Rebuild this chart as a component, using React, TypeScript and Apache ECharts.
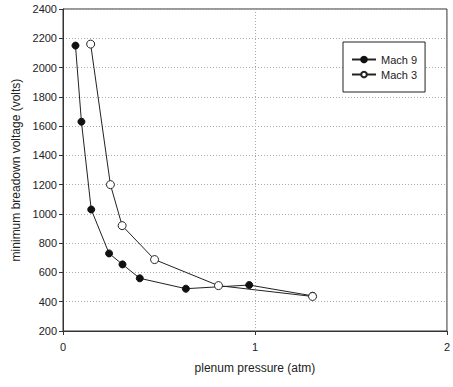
import React, { useEffect, useRef } from "react";
import * as echarts from "echarts";

const mach9X = [0.065, 0.096, 0.147, 0.24, 0.31, 0.4, 0.64, 0.97, 1.3];
const mach9Y = [2150, 1630, 1030, 730, 655, 560, 489, 514, 440];
const mach3X = [0.144, 0.247, 0.308, 0.477, 0.81, 1.3];
const mach3Y = [2160, 1200, 920, 688, 510, 436];
const seriesNames = ["Mach 9", "Mach 3"];
const xAxisTitle = "plenum pressure (atm)";
const yAxisTitle = "minimum breadown voltage (volts)";

const font = "'Liberation Sans', Arial, sans-serif";

export default function App() {
  const ref = useRef<HTMLDivElement>(null);
  useEffect(() => {
    if (!ref.current) return;
    const chart = echarts.init(ref.current, undefined, { renderer: "svg" });
    const pair = (xs: number[], ys: number[]) => xs.map((x, i) => [x, ys[i]]);
    chart.setOption({
      animation: false,
      backgroundColor: "#fff",
      textStyle: { fontFamily: font },
      grid: {
        left: 63,
        top: 9,
        right: 1,
        bottom: 56,
        show: true,
        borderColor: "#333",
        borderWidth: 1,
        backgroundColor: "#fff",
      },
      legend: {
        orient: "vertical",
        left: 343,
        top: 42,
        padding: [11, 8, 11, 8],
        itemGap: 2,
        itemWidth: 24,
        itemHeight: 7,
        borderColor: "#222",
        borderWidth: 1,
        backgroundColor: "#fff",
        textStyle: { fontFamily: font, fontSize: 11, lineHeight: 13, color: "#222" },
        data: seriesNames,
      },
      xAxis: {
        type: "value",
        min: 0,
        max: 2,
        interval: 1,
        name: xAxisTitle,
        nameLocation: "middle",
        nameGap: 31,
        nameTextStyle: { fontFamily: font, fontSize: 12, color: "#222" },
        axisLine: { show: true, lineStyle: { color: "#333", width: 1 } },
        axisTick: { show: true, length: 4, lineStyle: { color: "#333" } },
        axisLabel: { fontFamily: font, fontSize: 11, color: "#222", margin: 10 },
        splitLine: { show: true, lineStyle: { color: "#aaa", type: [1, 2], width: 1 } },
      },
      yAxis: {
        type: "value",
        min: 200,
        max: 2400,
        interval: 200,
        name: yAxisTitle,
        nameLocation: "middle",
        nameGap: 40,
        nameTextStyle: { fontFamily: font, fontSize: 12, color: "#222" },
        axisLine: { show: true, lineStyle: { color: "#333", width: 1 } },
        axisTick: { show: true, length: 4, lineStyle: { color: "#333" } },
        axisLabel: {
          fontFamily: font,
          fontSize: 11,
          color: "#222",
          margin: 6,
          formatter: (v: number) => String(v),
        },
        splitLine: { show: true, lineStyle: { color: "#aaa", type: [1, 2], width: 1 } },
      },
      series: [
        {
          name: seriesNames[0],
          type: "line",
          data: pair(mach9X, mach9Y),
          symbol: "circle",
          symbolSize: 7,
          lineStyle: { color: "#222", width: 1 },
          itemStyle: { color: "#111", borderColor: "#111", borderWidth: 1 },
          z: 3,
        },
        {
          name: seriesNames[1],
          type: "line",
          data: pair(mach3X, mach3Y),
          symbol: "circle",
          symbolSize: 8,
          lineStyle: { color: "#222", width: 1 },
          itemStyle: { color: "#fff", borderColor: "#222", borderWidth: 1 },
          z: 4,
        },
      ],
    });
    return () => chart.dispose();
  }, []);
  return (
    <div
      ref={ref}
      style={{ position: "fixed", left: 0, top: 0, width: 453, height: 387 }}
    />
  );
}
